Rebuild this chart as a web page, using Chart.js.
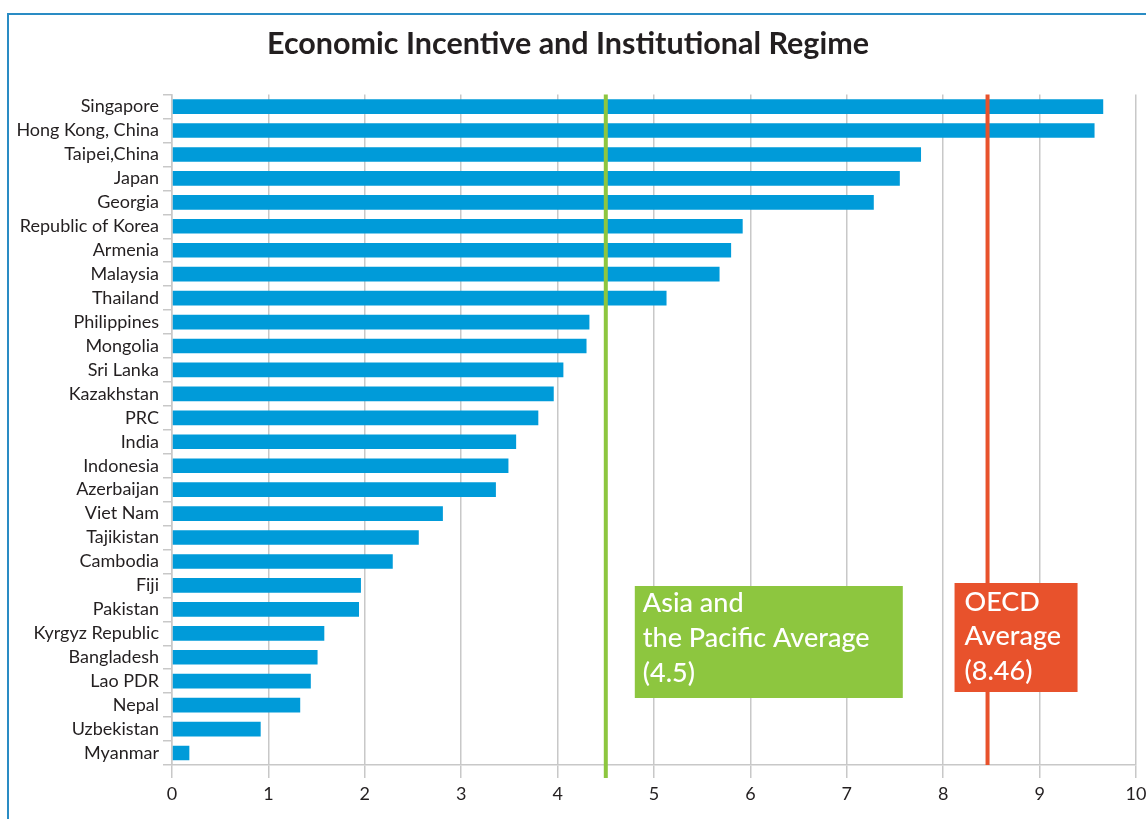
<!DOCTYPE html>
<html>
<head>
<meta charset="utf-8">
<script src="https://cdn.jsdelivr.net/npm/chart.js@4.4.0/dist/chart.umd.min.js"></script>
<style>
  html, body { margin: 0; padding: 0; background: #fff; }
  #wrap { position: relative; width: 1146px; height: 819px; }
  #frame { position: absolute; left: 7px; top: 13px; right: -10px; bottom: -10px;
           border-top: 2px solid #2a8cc4; border-left: 2px solid #2a8cc4; pointer-events: none; }
</style>
</head>
<body>
<div id="wrap">
  <canvas id="myChart" width="1146" height="819"></canvas>
  <div id="frame"></div>
</div>
<script>
var countries = ["Singapore", "Hong Kong, China", "Taipei,China", "Japan", "Georgia", "Republic of Korea",
    "Armenia", "Malaysia", "Thailand", "Philippines", "Mongolia", "Sri Lanka", "Kazakhstan", "PRC",
    "India", "Indonesia", "Azerbaijan", "Viet Nam", "Tajikistan", "Cambodia", "Fiji", "Pakistan",
    "Kyrgyz Republic", "Bangladesh", "Lao PDR", "Nepal", "Uzbekistan", "Myanmar"];
var scores = [9.66, 9.57, 7.77, 7.55, 7.28, 5.92, 5.80, 5.68, 5.13, 4.33, 4.30, 4.06, 3.96, 3.80,
    3.57, 3.49, 3.36, 2.81, 2.56, 2.29, 1.96, 1.94, 1.58, 1.51, 1.44, 1.33, 0.92, 0.18];
var xTicks = [0, 1, 2, 3, 4, 5, 6, 7, 8, 9, 10];

var asiaAvg = 4.5;
var oecdAvg = 8.46;
var asiaText = ["Asia and", "the Pacific Average", "(4.5)"];
var oecdText = ["OECD", "Average", "(8.46)"];

// average lines + label boxes
const averagePlugin = {
    id: "averages",
    afterDatasetsDraw(chart) {
        const ctx = chart.ctx;
        const x = chart.scales.x;
        const area = chart.chartArea;
        const gx = x.getPixelForValue(asiaAvg);
        const rx = x.getPixelForValue(oecdAvg);

        ctx.save();
        ctx.lineWidth = 4;
        ctx.strokeStyle = "#8dc63f";
        ctx.beginPath();
        ctx.moveTo(gx, area.top);
        ctx.lineTo(gx, area.bottom + 13);
        ctx.stroke();

        ctx.strokeStyle = "#e8522c";
        ctx.beginPath();
        ctx.moveTo(rx, area.top);
        ctx.lineTo(rx, area.bottom);
        ctx.stroke();

        ctx.font = "500 27px Lato";
        ctx.textBaseline = "middle";
        ctx.textAlign = "left";

        ctx.fillStyle = "#8dc63f";
        ctx.fillRect(gx + 29, 586, 268, 112);
        ctx.fillStyle = "#ffffff";
        asiaText.forEach((t, i) => ctx.fillText(t, gx + 37, 603 + i * 35));

        ctx.fillStyle = "#e8522c";
        ctx.fillRect(rx - 33, 583, 123, 109);
        ctx.fillStyle = "#ffffff";
        oecdText.forEach((t, i) => ctx.fillText(t, rx - 23, 602 + i * 34.5));
        ctx.restore();
    }
};

new Chart("myChart", {
    type: "bar",
    data: {
        labels: countries,
        datasets: [{
            data: scores,
            backgroundColor: "#009bd9",
            barPercentage: 0.9,
            categoryPercentage: 0.68
        }]
    },
    options: {
        indexAxis: "y",
        responsive: false,
        animation: false,
        layout: { padding: { left: 0, right: 10, top: 0, bottom: 0 } },
        plugins: {
            legend: { display: false },
            tooltip: { enabled: false },
            title: {
                display: true,
                text: "Economic Incentive and Institutional Regime",
                color: "#231f20",
                font: { family: "Lato", size: 30.5, weight: "bold" },
                padding: { top: 26, bottom: 32 }
            }
        },
        scales: {
            x: {
                min: 0,
                max: 10,
                afterBuildTicks: (scale) => { scale.ticks = xTicks.map(v => ({ value: v })); },
                afterFit: (scale) => { scale.height = 54; scale.paddingRight = 0; scale.paddingLeft = 0; },
                grid: { color: "#c8c8c8", lineWidth: 1.5, tickLength: 13 },
                border: { color: "#c8c8c8", width: 1.5 },
                ticks: { color: "#231f20", font: { family: "Lato", size: 18 }, padding: 5 }
            },
            y: {
                afterFit: (scale) => { scale.width = 172; },
                grid: { drawOnChartArea: false, color: "#c8c8c8", lineWidth: 1.5, tickLength: 9 },
                border: { color: "#c8c8c8", width: 1.5 },
                ticks: { color: "#231f20", font: { family: "Lato", size: 18 }, padding: 4, autoSkip: false }
            }
        }
    },
    plugins: [averagePlugin]
});
</script>
</body>
</html>
